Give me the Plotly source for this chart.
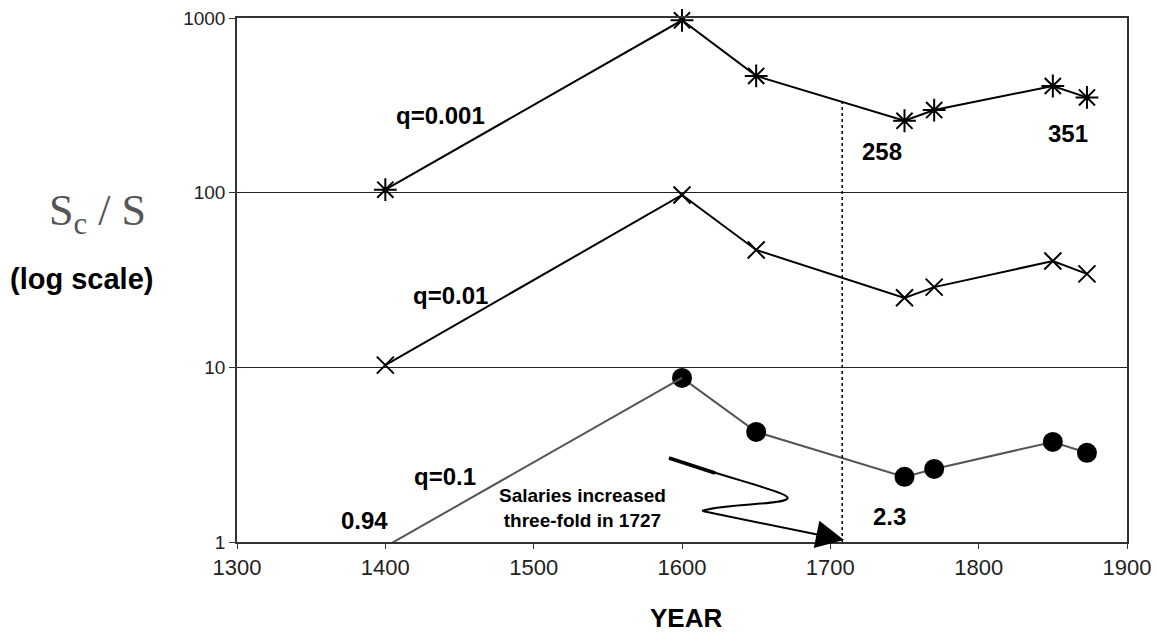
import numpy as np
import plotly.graph_objects as go

years = [1400, 1600, 1650, 1750, 1770, 1850, 1873]
q001 = [104, 970, 466, 258, 297, 408, 351]
q01 = [10.3, 97, 47, 25, 28.8, 40.6, 34.3]
q1 = [0.94, 8.7, 4.27, 2.36, 2.62, 3.74, 3.24]

x_ticks = [1300, 1400, 1500, 1600, 1700, 1800, 1900]
y_ticks = [1, 10, 100, 1000]
y_tick_text = ["1", "10", "100", "1000"]

marker_year = 1708

# page offset (body margin) and plot area in reference pixels
OFF = 8
L, R, T, B = 237, 1127, 18, 542
W, H = 1143, 632


def px(xp, yp):
    return (xp - L) / (R - L), (B - yp) / (B - T)


fig = go.Figure()

fig.add_trace(go.Scatter(x=years, y=q001, mode="lines+markers",
                         line=dict(color="black", width=2),
                         marker=dict(symbol="asterisk-open", size=19, color="black",
                                     line=dict(width=2, color="black")),
                         cliponaxis=False, showlegend=False))
fig.add_trace(go.Scatter(x=years, y=q01, mode="lines+markers",
                         line=dict(color="black", width=2),
                         marker=dict(symbol="x-thin-open", size=17, color="black",
                                     line=dict(width=2, color="black")),
                         cliponaxis=False, showlegend=False))
fig.add_trace(go.Scatter(x=years[1:], y=q1[1:], mode="lines+markers",
                         line=dict(color="#555555", width=2),
                         marker=dict(symbol="circle", size=20, color="black"),
                         cliponaxis=False, showlegend=False))
fig.add_trace(go.Scatter(x=years[:2], y=q1[:2], mode="lines",
                         line=dict(color="#555555", width=2),
                         showlegend=False))

# dotted vertical line
fig.add_shape(type="line", xref="x", yref="y", x0=marker_year, x1=marker_year,
              y0=1, y1=350, line=dict(color="black", width=1.5, dash="dot"))

# squiggly arrow (decoration)
pts = [(669, 458), (750, 485), (800, 495), (785, 500), (775, 505), (720, 504), (702, 511)]
pp = [px(a, b) for a, b in pts]
path = "M {0[0]},{0[1]} C {1[0]},{1[1]} {2[0]},{2[1]} {3[0]},{3[1]} C {4[0]},{4[1]} {5[0]},{5[1]} {6[0]},{6[1]}".format(*pp)
fig.add_shape(type="path", xref="paper", yref="paper", path=path,
              line=dict(color="black", width=2))
p0, p1 = px(669, 458), px(715, 473)
fig.add_shape(type="line", xref="paper", yref="paper", x0=p0[0], y0=p0[1], x1=p1[0], y1=p1[1],
              line=dict(color="black", width=3.5))
tip = px(844, 540)
fig.add_annotation(x=tip[0], y=tip[1], xref="paper", yref="paper", ax=702 - 844, ay=511 - 540,
                   showarrow=True, arrowhead=2, arrowsize=2.8, arrowwidth=2,
                   arrowcolor="black", text="")

SANS = "Liberation Sans, Arial"


def add_text(xv, yv, txt, size=24):
    fig.add_annotation(x=xv, y=np.log10(yv), xref="x", yref="y", text="<b>%s</b>" % txt,
                       xanchor="center", yanchor="middle",
                       showarrow=False, font=dict(family=SANS, size=size, color="black"))


add_text(1437, 10 ** 2.439, "q=0.001")
add_text(1444, 10 ** 1.409, "q=0.01")
add_text(1440, 10 ** 0.373, "q=0.1")
add_text(1386, 10 ** 0.121, "%g" % q1[0])
add_text(1735, 10 ** 2.233, "%d" % q001[3])
add_text(1860, 10 ** 2.336, "%d" % q001[6])
add_text(1740, 10 ** 0.144, "2.3")
fig.add_annotation(x=1533, y=0.195, xref="x", yref="y",
                   text="<b>Salaries increased<br>three-fold in 1727</b>",
                   xanchor="center", yanchor="middle",
                   showarrow=False, font=dict(family=SANS, size=19, color="black"))

# y-axis title pieces
fig.add_annotation(x=px(97, 0)[0], y=px(0, 214)[1], xref="paper", yref="paper",
                   text="S<sub>c</sub> / S", showarrow=False, xanchor="center", yanchor="middle",
                   font=dict(family="Liberation Serif, DejaVu Serif", size=44, color="#555555"))
fig.add_annotation(x=px(81, 0)[0], y=px(0, 279)[1], xref="paper", yref="paper",
                   text="<b>(log scale)</b>", showarrow=False, xanchor="center", yanchor="middle",
                   font=dict(family=SANS, size=29, color="black"))
fig.add_annotation(x=px(686, 0)[0], y=px(0, 618)[1], xref="paper", yref="paper",
                   text="<b>YEAR</b>", showarrow=False, xanchor="center", yanchor="middle",
                   font=dict(family=SANS, size=26, color="black"))

fig.update_xaxes(range=[1300, 1900], tickvals=x_ticks, showgrid=False, zeroline=False,
                 showline=True, linecolor="#333333", linewidth=1.5, mirror=True,
                 ticks="outside", ticklen=5, tickcolor="#333333", ticklabeloverflow="allow",
                 tickfont=dict(family=SANS, size=22, color="#222222"))
fig.update_yaxes(type="log", range=[0, 3], tickvals=y_ticks, ticktext=y_tick_text,
                 showgrid=True, gridcolor="#222222", gridwidth=1.3, zeroline=False,
                 showline=True, linecolor="#333333", linewidth=1.5, mirror=True,
                 ticks="outside", ticklen=6, tickcolor="#333333", ticklabeloverflow="allow",
                 tickfont=dict(family=SANS, size=19, color="#222222"))

fig.update_layout(width=W, height=H,
                  margin=dict(l=L - OFF, r=W - (R - OFF), t=T - OFF, b=H - (B - OFF), autoexpand=False),
                  plot_bgcolor="white", paper_bgcolor="white")

fig.write_html("out.html")
